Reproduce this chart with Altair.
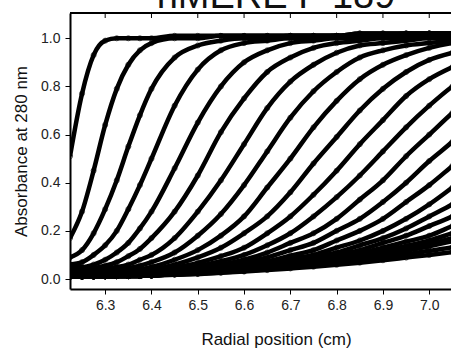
import altair as alt
import pandas as pd

# Radial positions (cm) at which each scan is sampled
radius_cm = [6.224, 6.25, 6.275, 6.30, 6.325, 6.35, 6.375, 6.40, 6.45, 6.50, 6.55,
             6.60, 6.65, 6.70, 6.75, 6.80, 6.85, 6.90, 6.95, 7.00, 7.05, 7.10]

# Absorbance at 280 nm for each velocity scan, early to late
scan_01 = [0.51, 0.77, 0.93, 0.99, 1.00, 1.00, 1.00, 1.00, 1.01, 1.01, 1.01, 1.01, 1.01, 1.01, 1.01, 1.01, 1.02, 1.02, 1.02, 1.02, 1.02, 1.02]
scan_02 = [0.17, 0.28, 0.45, 0.64, 0.79, 0.89, 0.95, 0.98, 1.00, 1.00, 1.01, 1.01, 1.01, 1.01, 1.01, 1.01, 1.02, 1.02, 1.02, 1.02, 1.02, 1.02]
scan_03 = [0.09, 0.12, 0.19, 0.29, 0.41, 0.55, 0.68, 0.79, 0.92, 0.97, 0.99, 1.00, 1.00, 1.01, 1.01, 1.01, 1.01, 1.01, 1.02, 1.02, 1.02, 1.02]
scan_04 = [0.06, 0.07, 0.10, 0.14, 0.20, 0.29, 0.39, 0.50, 0.72, 0.87, 0.95, 0.98, 0.99, 1.00, 1.00, 1.01, 1.01, 1.01, 1.01, 1.02, 1.02, 1.02]
scan_05 = [0.05, 0.05, 0.06, 0.08, 0.11, 0.15, 0.21, 0.28, 0.46, 0.65, 0.80, 0.90, 0.95, 0.98, 0.99, 1.00, 1.00, 1.01, 1.01, 1.01, 1.01, 1.02]
scan_06 = [0.04, 0.04, 0.045, 0.055, 0.07, 0.095, 0.125, 0.17, 0.28, 0.43, 0.61, 0.75, 0.86, 0.92, 0.96, 0.98, 0.99, 1.00, 1.00, 1.01, 1.01, 1.01]
scan_07 = [0.035, 0.035, 0.04, 0.045, 0.05, 0.06, 0.08, 0.10, 0.17, 0.28, 0.41, 0.56, 0.71, 0.82, 0.89, 0.94, 0.97, 0.98, 0.99, 1.00, 1.00, 1.01]
scan_08 = [0.03, 0.03, 0.03, 0.035, 0.04, 0.045, 0.055, 0.07, 0.11, 0.18, 0.27, 0.39, 0.53, 0.67, 0.78, 0.86, 0.92, 0.95, 0.97, 0.98, 0.99, 1.00]
scan_09 = [0.025, 0.025, 0.025, 0.03, 0.03, 0.035, 0.04, 0.05, 0.08, 0.12, 0.18, 0.26, 0.38, 0.50, 0.63, 0.74, 0.83, 0.89, 0.93, 0.96, 0.98, 0.99]
scan_10 = [0.02, 0.02, 0.02, 0.025, 0.025, 0.03, 0.035, 0.04, 0.06, 0.09, 0.13, 0.19, 0.26, 0.36, 0.48, 0.59, 0.70, 0.79, 0.86, 0.91, 0.94, 0.96]
scan_11 = [0.015, 0.015, 0.017, 0.019, 0.022, 0.025, 0.029, 0.035, 0.048, 0.067, 0.095, 0.13, 0.19, 0.26, 0.35, 0.45, 0.56, 0.66, 0.76, 0.83, 0.88, 0.92]
scan_12 = [0.013, 0.014, 0.015, 0.017, 0.02, 0.022, 0.025, 0.03, 0.04, 0.054, 0.074, 0.10, 0.14, 0.19, 0.26, 0.34, 0.43, 0.53, 0.63, 0.72, 0.80, 0.86]
scan_13 = [0.012, 0.012, 0.013, 0.014, 0.016, 0.018, 0.02, 0.023, 0.035, 0.045, 0.06, 0.08, 0.11, 0.15, 0.19, 0.25, 0.33, 0.41, 0.51, 0.60, 0.69, 0.77]
scan_14 = [0.011, 0.011, 0.012, 0.013, 0.014, 0.015, 0.017, 0.019, 0.031, 0.04, 0.053, 0.068, 0.09, 0.12, 0.15, 0.20, 0.25, 0.32, 0.40, 0.49, 0.57, 0.66]
scan_15 = [0.011, 0.011, 0.011, 0.012, 0.013, 0.014, 0.015, 0.017, 0.028, 0.035, 0.045, 0.058, 0.074, 0.097, 0.12, 0.16, 0.20, 0.25, 0.32, 0.39, 0.47, 0.55]
scan_16 = [0.01, 0.01, 0.011, 0.012, 0.012, 0.013, 0.014, 0.016, 0.026, 0.032, 0.042, 0.052, 0.066, 0.084, 0.10, 0.13, 0.16, 0.20, 0.25, 0.31, 0.38, 0.45]
scan_17 = [0.01, 0.01, 0.011, 0.011, 0.012, 0.013, 0.014, 0.015, 0.025, 0.03, 0.038, 0.047, 0.06, 0.074, 0.09, 0.11, 0.14, 0.17, 0.21, 0.26, 0.31, 0.37]
scan_18 = [0.01, 0.01, 0.01, 0.011, 0.012, 0.012, 0.013, 0.014, 0.024, 0.029, 0.036, 0.044, 0.055, 0.067, 0.082, 0.10, 0.12, 0.15, 0.18, 0.22, 0.26, 0.31]
scan_19 = [0.01, 0.01, 0.01, 0.011, 0.012, 0.012, 0.013, 0.014, 0.022, 0.027, 0.034, 0.042, 0.05, 0.061, 0.074, 0.09, 0.107, 0.13, 0.155, 0.18, 0.22, 0.26]
scan_20 = [0.01, 0.01, 0.01, 0.011, 0.012, 0.012, 0.013, 0.014, 0.021, 0.025, 0.031, 0.038, 0.046, 0.056, 0.069, 0.082, 0.098, 0.116, 0.137, 0.16, 0.19, 0.22]
scan_21 = [0.01, 0.01, 0.01, 0.011, 0.012, 0.012, 0.013, 0.014, 0.02, 0.024, 0.03, 0.036, 0.044, 0.053, 0.064, 0.076, 0.09, 0.105, 0.124, 0.145, 0.17, 0.196]
scan_22 = [0.01, 0.01, 0.01, 0.011, 0.012, 0.012, 0.013, 0.014, 0.02, 0.023, 0.029, 0.035, 0.042, 0.05, 0.062, 0.072, 0.085, 0.10, 0.117, 0.136, 0.157, 0.18]
scan_23 = [0.01, 0.01, 0.01, 0.011, 0.012, 0.012, 0.013, 0.015, 0.018, 0.022, 0.027, 0.033, 0.04, 0.048, 0.056, 0.066, 0.077, 0.089, 0.102, 0.117, 0.132, 0.15]
scan_24 = [0.01, 0.01, 0.01, 0.011, 0.012, 0.012, 0.013, 0.015, 0.018, 0.021, 0.026, 0.031, 0.037, 0.044, 0.051, 0.059, 0.068, 0.078, 0.089, 0.10, 0.112, 0.124]

scans = [scan_01, scan_02, scan_03, scan_04, scan_05, scan_06, scan_07, scan_08,
         scan_09, scan_10, scan_11, scan_12, scan_13, scan_14, scan_15, scan_16,
         scan_17, scan_18, scan_19, scan_20, scan_21, scan_22, scan_23, scan_24]

x_ticks = [6.3, 6.4, 6.5, 6.6, 6.7, 6.8, 6.9, 7.0]
y_ticks = [0.0, 0.2, 0.4, 0.6, 0.8, 1.0]
chart_title = "hMERE F 189"

rows = []
for n, values in enumerate(scans, start=1):
    for r, a in zip(radius_cm, values):
        rows.append({"scan": n, "radius": r, "absorbance": a})
df = pd.DataFrame(rows)

FONT = "Liberation Sans"
W, H = 381, 276

x_scale = alt.Scale(domain=[6.224, 7.047], nice=False, zero=False)
y_scale = alt.Scale(domain=[-0.0415, 1.105], nice=False, zero=False)

x_axis = alt.Axis(
    values=x_ticks, format=".1f", title="Radial position (cm)", grid=False,
    labelFont=FONT, labelFontSize=14, labelColor="#222", labelPadding=4,
    tickColor="black", tickSize=5, tickWidth=1,
    domainColor="black", domainWidth=2,
    titleFont=FONT, titleFontSize=17, titleFontWeight="normal", titleColor="#111",
    titleX=206, titleY=55, titleAlign="center", titleBaseline="alphabetic",
)
y_axis = alt.Axis(
    values=y_ticks, format=".1f", title="Absorbance at 280 nm", grid=False,
    labelFont=FONT, labelFontSize=14, labelColor="#222", labelPadding=5,
    tickColor="black", tickSize=5, tickWidth=1,
    domainColor="black", domainWidth=2,
    titleFont=FONT, titleFontSize=17, titleFontWeight="normal", titleColor="#111",
    titleX=-44, titleAlign="center", titleBaseline="alphabetic",
)

base = alt.Chart(df)

curves = base.mark_line(
    color="black", strokeWidth=4.5, interpolate="monotone", clip=True
).encode(
    x=alt.X("radius:Q", scale=x_scale, axis=x_axis),
    y=alt.Y("absorbance:Q", scale=y_scale, axis=y_axis),
    detail="scan:N",
)

circles = base.mark_point(
    shape="circle", filled=False, color="black", size=26, strokeWidth=0.9, clip=True
).encode(
    x=alt.X("radius:Q", scale=x_scale),
    y=alt.Y("absorbance:Q", scale=y_scale),
)

# inward ticks along the top frame
top_ticks = alt.Chart(pd.DataFrame({"tick": x_ticks})).mark_rule(
    color="black", strokeWidth=1
).encode(
    x=alt.X("tick:Q", scale=x_scale),
    y=alt.value(0),
    y2=alt.value(5),
)

top_frame = alt.Chart(pd.DataFrame({"edge": [0]})).mark_rule(
    color="black", strokeWidth=2
).encode(
    x=alt.value(0), x2=alt.value(W), y=alt.value(0)
)

heading = alt.Chart(pd.DataFrame({"label": [chart_title]})).mark_text(
    font=FONT, fontSize=38, color="#111", align="center", baseline="alphabetic"
).encode(
    x=alt.value(206), y=alt.value(-5), text="label:N"
)

chart = alt.layer(curves, circles, top_ticks, top_frame, heading).properties(
    width=W,
    height=H,
    autosize=alt.AutoSizeParams(type="none"),
    padding={"left": 70, "top": 13, "right": 0, "bottom": 63},
).configure_view(stroke=None)

chart.save("out.html", embed_options={"renderer": "svg", "actions": False})
